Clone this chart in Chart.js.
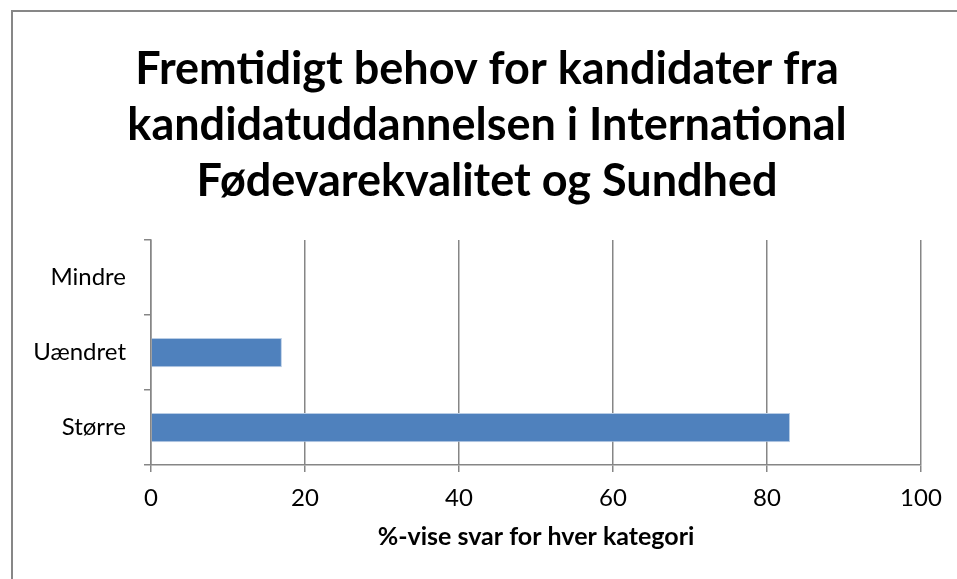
<!DOCTYPE html>
<html>
<head>
<meta charset="utf-8">
<script src="https://cdn.jsdelivr.net/npm/chart.js@4"></script>
<style>
    html, body { margin: 0; padding: 0; background: #fff; }
    #wrap { width: 957px; height: 579px; position: relative; }
</style>
</head>
<body>
<div id="wrap"><canvas id="chart"></canvas></div>
<script>
// Data.
const categories = ['Mindre', 'Uændret', 'Større'];
const percentValues = [0, 17, 83];
const chartTitle = ['Fremtidigt behov for kandidater fra', 'kandidatuddannelsen i International', 'Fødevarekvalitet og Sundhed'];
const axisTitle = '%-vise svar for hver kategori';

const FONT = 'Lato, "Open Sans", sans-serif';
const GRID = '#868686';

// Excel-like outer frame (only top and left edges are visible in the crop).
const framePlugin = {
    id: 'frame',
    beforeDraw(chart) {
        const ctx = chart.ctx;
        ctx.save();
        ctx.strokeStyle = '#878787';
        ctx.lineWidth = 2;
        ctx.strokeRect(12, 11, 2000, 2000);
        ctx.restore();
    },
    // center the title on the frame instead of the padded canvas
    afterLayout(chart) {
        const t = chart.titleBlock;
        if (t) {
            t.left = 17;
            t.right = 957;
            t.width = 940;
        }
    }
};

new Chart(document.getElementById('chart'), {
    type: 'bar',
    data: {
        labels: categories,
        datasets: [{
            data: percentValues,
            backgroundColor: '#4F81BD',
            borderColor: '#B9CDE5',
            borderWidth: 1,
            categoryPercentage: 1,
            barPercentage: 0.39
        }]
    },
    options: {
        indexAxis: 'y',
        responsive: true,
        maintainAspectRatio: false,
        animation: false,
        layout: { padding: { left: 0, right: 36, top: 0, bottom: 0 } },
        plugins: {
            legend: { display: false },
            tooltip: { enabled: false },
            title: {
                display: true,
                text: chartTitle,
                color: '#000',
                font: { family: FONT, size: 45, weight: 'bold', lineHeight: 1.24 },
                padding: { top: 42, bottom: 30.6 }
            }
        },
        scales: {
            x: {
                min: 0,
                max: 100,
                ticks: { stepSize: 20, color: '#000', padding: 12, font: { family: FONT, size: 24 } },
                grid: { color: GRID, lineWidth: 1.5, tickLength: 7 },
                border: { color: GRID, width: 1.5 },
                title: {
                    display: true,
                    text: axisTitle,
                    color: '#000',
                    font: { family: FONT, size: 25, weight: 'bold', lineHeight: 1.2 },
                    padding: { top: 0, bottom: 27 }
                },
                afterFit(scale) { scale.height = 114; }
            },
            y: {
                ticks: { color: '#000', padding: 18, font: { family: FONT, size: 24 } },
                grid: { drawOnChartArea: false, color: GRID, lineWidth: 1.5, tickLength: 7 },
                border: { color: GRID, width: 1.5 },
                afterFit(scale) { scale.width = 151; }
            }
        }
    },
    plugins: [framePlugin]
});
</script>
</body>
</html>
